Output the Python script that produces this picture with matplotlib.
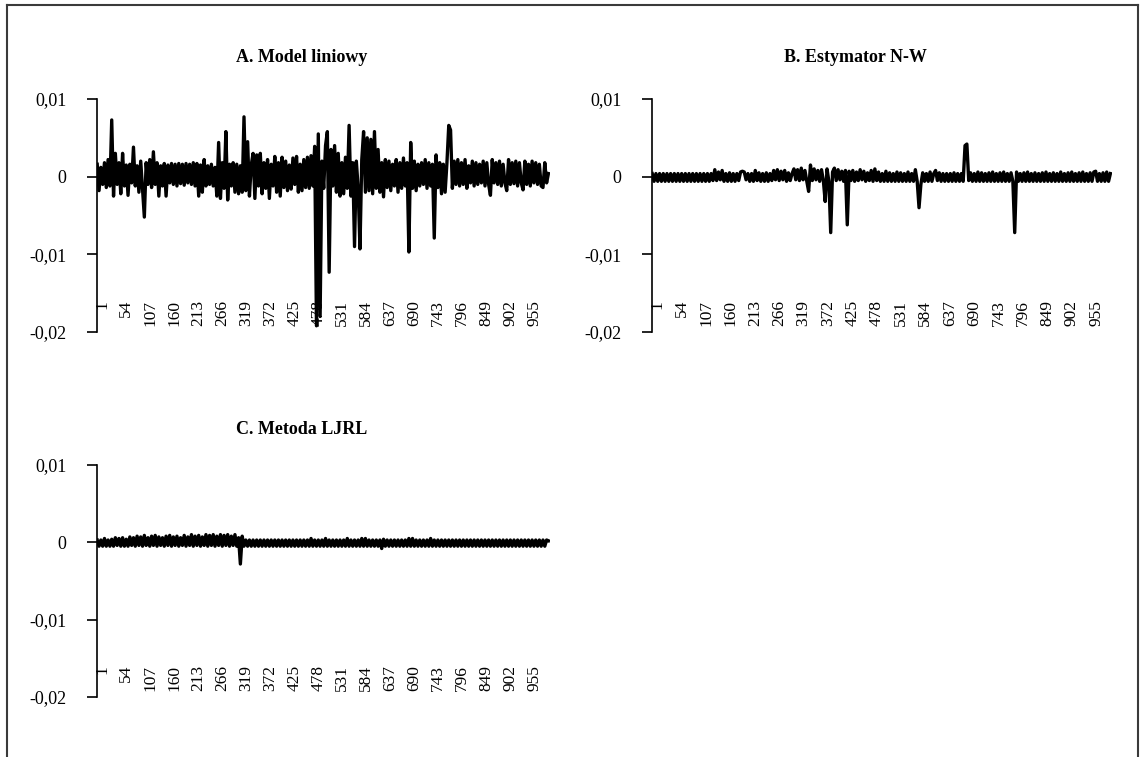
import numpy as np
import matplotlib
matplotlib.use("Agg")
import matplotlib.pyplot as plt
from matplotlib.lines import Line2D
from matplotlib.transforms import ScaledTranslation

plt.rcParams["font.family"] = ["Liberation Serif", "DejaVu Serif"]

# observation index (every 4th of 1000 observations)
obs = np.arange(1, 1001, 4)
tick_obs = list(range(1, 1001, 53))

# residuals, in units of 1e-4
res_linear = [
    16, -18, 12, -10, 18, -14, 22, -12, 73, -25,
    30, -10, 18, -22, 30, -12, 15, -24, 16, -8,
    38, -12, 14, -20, 20, -15, -52, 18, -10, 22,
    -14, 32, -10, 18, -25, 14, -12, 17, -25, 15,
    -8, 17, -10, 16, -12, 17, -9, 16, -11, 17,
    -8, 16, -10, 18, -12, 17, -25, 15, -20, 22,
    -12, 14, -10, 16, -12, 12, -25, 44, -28, 18,
    -15, 58, -30, 16, -12, 18, -20, 16, -22, 14,
    -20, 77, -18, 45, -25, 15, 30, -28, 28, -12,
    30, -22, 18, -15, 22, -28, 16, -12, 26, -20,
    18, -25, 25, -14, 20, -18, 15, -16, 24, -10,
    26, -20, 16, -18, 22, -14, 25, -15, 27, -12,
    39, -192, 55, -180, 20, -15, 40, 58, -123, 35,
    -12, 40, -20, 30, -25, 18, -22, 25, -15, 66,
    -25, 18, -90, 20, -15, -93, 22, 58, -20, 50,
    -18, 48, -22, 58, -15, 35, -20, 18, -26, 22,
    -14, 20, -18, 16, -12, 22, -20, 18, -15, 24,
    -12, 18, -97, 44, -15, 20, -18, 16, -12, 18,
    -10, 22, -15, 18, -12, 16, -79, 28, -14, 18,
    -22, 16, -20, 18, 66, 60, -15, 20, -10, 22,
    -12, 18, -10, 22, -15, 14, -8, 20, -12, 18,
    -10, 16, -8, 20, -12, 18, -10, -24, 22, -8,
    18, -10, 20, -12, 16, -8, -18, 22, -10, 18,
    -9, 20, -12, 18, -8, -17, 20, -10, 16, -12,
    20, -8, 18, -10, 16, -12, -14, 18, -8, 4,
]

res_nw = [
    4, -6, 4, -6, 4, -6, 4, -6, 4, -6,
    4, -6, 4, -6, 4, -6, 4, -6, 4, -6,
    4, -6, 4, -6, 4, -6, 4, -6, 4, -6,
    4, -6, 4, -5, 9, -5, 6, -4, 8, -6,
    4, -6, 5, -6, 4, -6, 4, -5, 6, 7,
    6, -4, 4, -6, 4, -6, 8, -5, 5, -6,
    4, -6, 5, -6, 4, -5, 8, -4, 9, -5,
    7, -4, 8, -6, 5, -5, 4, 10, -4, 9,
    -5, 11, -4, 8, -6, -19, 15, -5, 10, -4,
    8, -6, 9, -5, -32, 10, -6, -72, 6, 11,
    -5, 9, -4, 7, -6, 8, -62, 7, -5, 8,
    -6, 6, -5, 9, -4, 7, -6, 5, -5, 8,
    -6, 10, -5, 6, -6, 4, -6, 7, -6, 5,
    -6, 4, -6, 6, -6, 5, -6, 4, -6, 6,
    -6, 4, -6, 9, -6, -40, -10, 5, -6, 4,
    -6, 6, -6, 4, 8, -5, 5, -6, 4, -6,
    4, -6, 4, -6, 5, -6, 4, -6, 4, -6,
    40, 42, -5, 5, -6, 4, -6, 6, -6, 5,
    -6, 4, -6, 5, -6, 6, -6, 4, -6, 5,
    -6, 6, -6, 4, -6, 5, -6, -72, 6, -6,
    4, -6, 5, -6, 6, -6, 4, -6, 5, -6,
    4, -6, 5, -6, 6, -6, 4, -6, 5, -6,
    4, -6, 6, -6, 4, -6, 5, -6, 6, -6,
    4, -6, 5, -6, 6, -6, 4, -6, 5, -6,
    6, 7, -6, 4, -6, 5, -6, 6, -6, 4,
]

res_ljrl = [
    3, -5, 3, -5, 5, -5, 3, -5, 4, -5,
    6, -4, 5, -5, 6, -5, 4, -5, 7, -4,
    6, -5, 8, -4, 7, -5, 9, -4, 6, -5,
    8, -4, 9, -5, 7, -4, 6, -5, 8, -4,
    9, -5, 7, -4, 8, -5, 6, -4, 9, -5,
    7, -4, 10, -5, 8, -4, 9, -5, 7, -4,
    10, -5, 9, -4, 10, -5, 8, -4, 10, -5,
    9, -4, 10, -5, 8, -4, 10, -5, 6, -28,
    8, -5, 3, -5, 3, -5, 3, -5, 3, -5,
    3, -5, 3, -5, 3, -5, 3, -5, 3, -5,
    3, -5, 3, -5, 3, -5, 3, -5, 3, -5,
    3, -5, 3, -5, 3, -5, 3, -5, 5, -5,
    3, -5, 3, -5, 3, -5, 5, -5, 3, -5,
    3, -5, 3, -5, 3, -5, 3, -5, 5, -5,
    3, -5, 3, -5, 3, -5, 5, -5, 5, -5,
    3, -5, 3, -5, 3, -5, 3, -8, 4, -5,
    3, -5, 3, -5, 3, -5, 3, -5, 3, -5,
    3, -5, 5, -5, 5, -5, 3, -5, 3, -5,
    3, -5, 3, -5, 5, -5, 3, -5, 3, -5,
    3, -5, 3, -5, 3, -5, 3, -5, 3, -5,
    3, -5, 3, -5, 3, -5, 3, -5, 3, -5,
    3, -5, 3, -5, 3, -5, 3, -5, 3, -5,
    3, -5, 3, -5, 3, -5, 3, -5, 3, -5,
    3, -5, 3, -5, 3, -5, 3, -5, 3, -5,
    3, -5, 3, -5, 3, -5, 3, -5, 3, 2,
]

titles = ["A. Model liniowy", "B. Estymator N-W", "C. Metoda LJRL"]
y_ticks = [-0.02, -0.01, 0, 0.01]
y_labels = ["-0,02", "-0,01", "0", "0,01"]

W, H = 1140, 757
fig = plt.figure(figsize=(W / 100, H / 100), dpi=100)

# pixel boxes (left, top, right, bottom) and title centres
boxes = [(97, 99, 550, 332), (652, 99, 1112, 332), (97, 465, 550, 697)]
title_pos = [(302, 57), (855, 57), (302, 430)]


def add_panel(title, vals, box, tpos):
    l, t, r, b = box
    ax = fig.add_axes([l / W, 1 - b / H, (r - l) / W, (b - t) / H])
    ax.plot(obs, np.array(vals) * 1e-4, color="black", lw=2.4, zorder=3)
    ax.set_xlim(0.5, 1000.5)
    ax.set_ylim(-0.02, 0.01)
    ax.set_yticks(y_ticks)
    ax.set_yticklabels(y_labels)
    ax.set_xticks(tick_obs)
    ax.set_xticklabels([str(v) for v in tick_obs], rotation=90)
    for s in ["top", "right", "bottom"]:
        ax.spines[s].set_visible(False)
    ax.spines["left"].set_linewidth(1.2)
    ax.tick_params(axis="y", length=7, width=1.2, pad=15, labelsize=13)
    ax.tick_params(axis="x", length=0, pad=-23, labelsize=12.5)
    shift = ScaledTranslation(5 / 100, 0, fig.dpi_scale_trans)
    for lbl in ax.get_xticklabels():
        lbl.set_transform(lbl.get_transform() + shift)
    fig.text(tpos[0] / W, 1 - tpos[1] / H, title, ha="center", va="center",
             fontweight="bold", fontsize=13)
    return ax


for title, vals, box, tpos in zip(titles, [res_linear, res_nw, res_ljrl], boxes, title_pos):
    add_panel(title, vals, box, tpos)

# outer frame (left, top, right)
frame_kw = dict(color="#3a3a3a", lw=1.5, transform=fig.transFigure)
fig.add_artist(Line2D([7 / W, 7 / W], [0, 1 - 5 / H], **frame_kw))
fig.add_artist(Line2D([7 / W, 1138 / W], [1 - 5 / H, 1 - 5 / H], **frame_kw))
fig.add_artist(Line2D([1138 / W, 1138 / W], [0, 1 - 5 / H], **frame_kw))

fig.savefig("out.png", dpi=100)
